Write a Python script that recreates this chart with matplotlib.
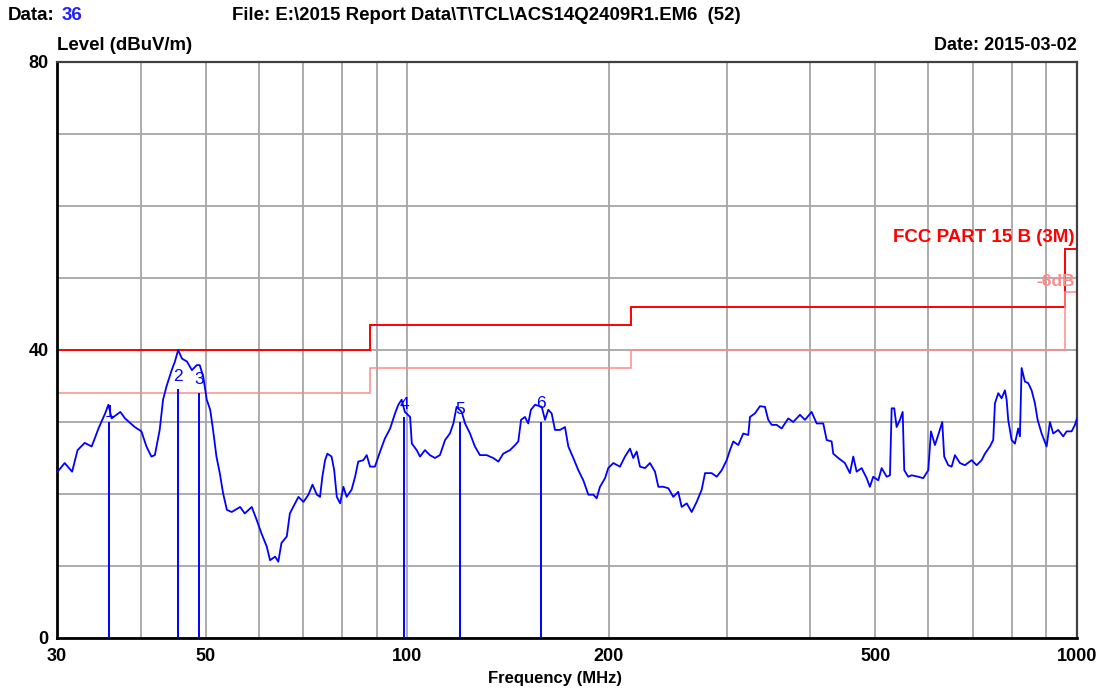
import matplotlib
matplotlib.use("Agg")
import matplotlib.pyplot as plt
from matplotlib.ticker import FixedLocator, NullFormatter, FixedFormatter

# ---- data ----
freq_mhz = [
    30.0, 30.8, 31.6, 32.2, 33.0, 33.8, 34.6, 35.4, 35.8, 36.2,
    37.3, 37.9, 39.2, 40.1, 40.8, 41.5, 42.0, 42.7, 43.2, 43.7,
    44.5, 45.0, 45.5, 46.1, 46.9, 47.7, 48.5, 49.0, 49.6, 50.2,
    50.8, 51.3, 51.9, 52.5, 53.1, 53.8, 54.7, 56.3, 57.2, 58.6,
    59.6, 60.6, 61.7, 62.4, 63.5, 64.2, 64.9, 66.1, 66.8, 68.0,
    68.8, 70.0, 71.2, 72.2, 73.3, 74.1, 74.7, 75.4, 76.0, 77.1,
    77.8, 78.5, 79.4, 80.3, 81.2, 82.6, 83.6, 84.5, 86.0, 87.0,
    88.0, 89.5, 91.1, 92.6, 94.3, 95.9, 97.0, 98.1, 99.2, 101.0,
    101.6, 103.3, 104.5, 106.3, 108.1, 110.0, 111.9, 113.9, 115.8, 117.2,
    118.5, 120.6, 122.0, 124.1, 126.2, 128.4, 131.4, 134.4, 136.8, 139.1,
    142.4, 144.9, 146.5, 147.9, 149.9, 151.6, 153.0, 155.2, 158.8, 160.6,
    162.4, 164.3, 166.2, 169.1, 172.0, 174.0, 177.0, 180.1, 183.2, 186.4,
    189.6, 191.8, 194.0, 197.4, 199.6, 203.1, 207.8, 211.4, 215.1, 217.5,
    220.1, 222.6, 226.5, 230.4, 234.4, 237.1, 241.2, 245.4, 249.6, 253.9,
    256.9, 261.4, 265.9, 270.5, 275.2, 278.4, 284.8, 289.8, 294.8, 299.9,
    303.3, 306.8, 312.1, 317.5, 323.0, 324.9, 330.5, 336.3, 342.1, 346.0,
    350.1, 356.1, 362.3, 370.6, 377.0, 385.8, 392.5, 401.6, 408.6, 418.0,
    422.9, 430.2, 432.6, 440.1, 450.3, 458.1, 463.4, 468.8, 476.9, 485.2,
    490.7, 496.3, 505.0, 510.9, 519.8, 525.7, 528.8, 533.5, 537.9, 544.1,
    549.2, 552.2, 559.8, 566.4, 579.4, 589.4, 599.7, 605.3, 613.6, 620.6,
    629.2, 633.5, 642.3, 649.9, 657.3, 668.7, 680.3, 696.1, 708.2, 720.5,
    728.7, 741.3, 749.8, 754.2, 762.8, 771.7, 780.5, 785.1, 789.4, 798.7,
    807.8, 817.0, 821.8, 826.6, 836.1, 845.6, 855.5, 865.3, 873.4, 885.5,
    900.8, 911.1, 921.5, 937.5, 953.7, 964.9, 981.7, 992.9, 1000.0,
]
level_dbuv = [
    23.0, 24.3, 23.1, 26.1, 27.1, 26.6, 29.1, 31.2, 32.4, 30.5,
    31.4, 30.5, 29.3, 28.7, 26.6, 25.2, 25.4, 28.9, 33.1, 34.9,
    37.2, 38.4, 40.0, 38.8, 38.4, 37.2, 37.9, 37.9, 36.3, 33.1,
    31.7, 28.9, 25.2, 22.9, 20.1, 17.8, 17.5, 18.2, 17.3, 18.2,
    16.4, 14.5, 12.7, 10.8, 11.3, 10.6, 13.2, 14.1, 17.3, 18.7,
    19.6, 18.9, 19.9, 21.3, 19.9, 19.6, 22.4, 24.7, 25.6, 25.2,
    23.3, 19.6, 18.7, 21.0, 19.6, 20.6, 22.4, 24.5, 24.7, 25.4,
    23.8, 23.8, 25.9, 27.7, 29.1, 31.2, 32.4, 33.1, 31.4, 30.7,
    27.0, 26.1, 25.2, 26.1, 25.4, 25.0, 25.4, 27.5, 28.4, 29.8,
    32.1, 31.4, 29.8, 28.4, 26.6, 25.4, 25.4, 25.0, 24.5, 25.6,
    26.1, 26.8, 27.3, 30.3, 30.7, 29.8, 31.7, 32.4, 32.1, 30.3,
    31.7, 31.2, 28.9, 28.9, 29.3, 26.6, 25.0, 23.3, 21.9, 19.9,
    19.9, 19.4, 21.0, 22.2, 23.6, 24.3, 23.8, 25.2, 26.3, 25.0,
    25.9, 23.8, 23.6, 24.3, 23.1, 21.0, 21.0, 20.8, 19.6, 20.3,
    18.2, 18.7, 17.5, 18.9, 20.6, 22.9, 22.9, 22.4, 23.3, 24.7,
    26.1, 27.3, 26.8, 28.4, 28.2, 30.7, 31.2, 32.2, 32.1, 30.3,
    29.6, 29.6, 29.1, 30.5, 30.0, 31.0, 30.3, 31.4, 29.8, 29.8,
    27.5, 27.3, 25.6, 25.0, 24.3, 22.9, 25.2, 23.1, 23.6, 22.2,
    21.0, 22.4, 21.9, 23.6, 22.4, 22.6, 31.9, 31.9, 29.3, 30.3,
    31.4, 23.3, 22.4, 22.6, 22.4, 22.2, 23.3, 28.7, 26.8, 28.2,
    30.0, 25.2, 24.0, 23.8, 25.4, 24.3, 24.0, 24.7, 24.0, 24.7,
    25.6, 26.6, 27.5, 32.6, 34.0, 33.3, 34.4, 33.1, 30.3, 27.5,
    27.0, 29.1, 28.0, 37.5, 35.6, 35.4, 34.4, 32.6, 30.3, 28.4,
    26.6, 30.0, 28.4, 28.9, 28.0, 28.7, 28.7, 29.6, 30.5,
]

limit_edges = [30, 88, 216, 960, 1000]
limit_levels = [40.0, 43.5, 46.0, 54.0]
margin_levels = [34.0, 37.5, 40.0, 48.0]

marker_ids = ["1", "2", "3", "4", "5", "6"]
marker_freq = [35.9, 45.5, 48.9, 98.9, 119.9, 158.4]
marker_top = [30.0, 34.6, 34.0, 30.7, 30.0, 30.0]
marker_label_level = [31.3, 36.3, 35.9, 32.4, 31.7, 32.5]

x_major = [30, 50, 100, 200, 500, 1000]
x_major_labels = ["30", "50", "100", "200", "500", "1000"]
x_minor = [40, 60, 70, 80, 90, 300, 400, 600, 700, 800, 900]
y_major = [0, 40, 80]
y_minor = [10, 20, 30, 50, 60, 70]

# ---- style ----
FONT = ["Liberation Sans", "DejaVu Sans"]
plt.rcParams["font.family"] = FONT
plt.rcParams["font.weight"] = "bold"

W, H = 1097, 690
fig = plt.figure(figsize=(W / 100, H / 100), dpi=100)
L, R, T, B = 57, 1077, 62, 638
ax = fig.add_axes([L / W, 1 - B / H, (R - L) / W, (B - T) / H])

ax.set_xscale("log")
ax.set_xlim(30, 1000)
ax.set_ylim(0, 80)

ax.xaxis.set_major_locator(FixedLocator(x_major))
ax.xaxis.set_major_formatter(FixedFormatter(x_major_labels))
ax.xaxis.set_minor_locator(FixedLocator(x_minor))
ax.xaxis.set_minor_formatter(NullFormatter())
ax.yaxis.set_major_locator(FixedLocator(y_major))
ax.yaxis.set_minor_locator(FixedLocator(y_minor))
ax.yaxis.set_minor_formatter(NullFormatter())

gcol = "#A6A6A6"
ax.grid(True, which="both", color=gcol, lw=1.3)
ax.set_axisbelow(True)
ax.tick_params(which="both", length=0, labelsize=13)
ax.tick_params(axis="x", pad=7)
ax.tick_params(axis="y", pad=6)

for s in ["left", "bottom"]:
    ax.spines[s].set_linewidth(2.0)
    ax.spines[s].set_color("black")
for s in ["top", "right"]:
    ax.spines[s].set_linewidth(1.6)
    ax.spines[s].set_color("#404040")

# trace
ax.plot(freq_mhz, level_dbuv, color="#0000FF", lw=1.3, zorder=3)

# limit lines
ax.stairs(limit_levels, limit_edges, baseline=None, color="#FF0000", lw=1.4, zorder=2)
ax.stairs(margin_levels, limit_edges, baseline=None, color="#FF8A8A", lw=1.1, zorder=2)

# markers
ax.vlines(marker_freq, 0, marker_top, color="#0000FF", lw=1.4, zorder=3)
for mid, f, lv in zip(marker_ids, marker_freq, marker_label_level):
    ax.text(f, lv, mid, color="#0000FF", fontsize=12.5, fontweight="normal",
            ha="center", va="center", zorder=4)

# limit labels
ax.text(0.9975, 1 - (238 - T) / (B - T), "FCC PART 15 B (3M)", transform=ax.transAxes,
        color="#FF0000", fontsize=13.5, ha="right", va="center")
ax.text(0.9975, 1 - (282 - T) / (B - T), "-6dB", transform=ax.transAxes,
        color="#FF8A8A", fontsize=12.5, ha="right", va="center")

# axis label
fig.text(555 / W, 1 - 678 / H, "Frequency (MHz)", fontsize=12, ha="center", va="center")

# header texts
fig.text(8 / W, 1 - 15 / H, "Data:", fontsize=13.5, ha="left", va="center")
fig.text(62 / W, 1 - 15 / H, "36", fontsize=13.5, ha="left", va="center", color="#2020FF")
fig.text(232 / W, 1 - 15 / H, "File: E:\\2015 Report Data\\T\\TCL\\ACS14Q2409R1.EM6  (52)",
         fontsize=13.4, ha="left", va="center")
fig.text(57 / W, 1 - 45 / H, "Level (dBuV/m)", fontsize=13.4, ha="left", va="center")
fig.text(1077 / W, 1 - 45 / H, "Date: 2015-03-02", fontsize=13, ha="right", va="center")

fig.savefig("out.png", dpi=100)
